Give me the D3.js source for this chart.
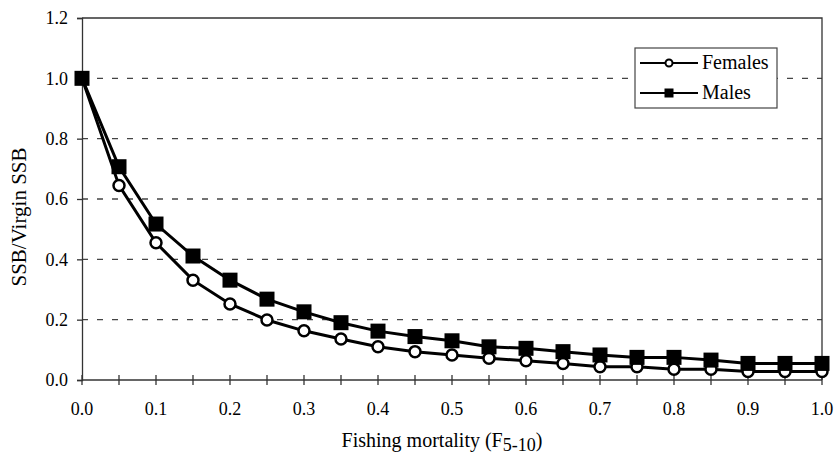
<!DOCTYPE html>
<html>
<head>
<meta charset="utf-8">
<script src="https://cdn.jsdelivr.net/npm/d3@7"></script>
<style>
    body { margin: 0; background: #fff; }
    svg text { font-family: 'Liberation Serif', 'DejaVu Serif', serif; }
</style>
</head>
<body>
<svg id="chart" width="836" height="456"></svg>
<script>
// fishing mortality values (F5-10)
var fValues = [0, 0.05, 0.1, 0.15, 0.2, 0.25, 0.3, 0.35, 0.4, 0.45, 0.5,
               0.55, 0.6, 0.65, 0.7, 0.75, 0.8, 0.85, 0.9, 0.95, 1.0];
var females = [1.0, 0.645, 0.455, 0.331, 0.252, 0.199, 0.163, 0.136, 0.110, 0.094, 0.083,
               0.072, 0.064, 0.055, 0.044, 0.044, 0.036, 0.036, 0.028, 0.028, 0.028];
var males = [1.0, 0.707, 0.517, 0.411, 0.331, 0.268, 0.226, 0.190, 0.162, 0.144, 0.130,
             0.110, 0.105, 0.094, 0.083, 0.075, 0.075, 0.066, 0.055, 0.055, 0.055];
var yTicks = [0, 0.2, 0.4, 0.6, 0.8, 1.0, 1.2];
var xLabelTicks = [0, 0.1, 0.2, 0.3, 0.4, 0.5, 0.6, 0.7, 0.8, 0.9, 1.0];
var seriesNames = ['Females', 'Males'];

var svg = d3.select('#chart');
var margin = {left: 82, right: 14, top: 18, bottom: 76};
var width = 836 - margin.left - margin.right;
var height = 456 - margin.top - margin.bottom;

var x = d3.scaleLinear().domain([0, 1]).range([margin.left, margin.left + width]);
var y = d3.scaleLinear().domain([0, 1.2]).range([margin.top + height, margin.top]);

// dashed gridlines
svg.append('g')
    .selectAll('line')
    .data(yTicks.filter(function(d) { return d > 0 && d < 1.2; }))
  .enter().append('line')
    .attr('x1', x(0)).attr('x2', x(1))
    .attr('y1', function(d) { return y(d); })
    .attr('y2', function(d) { return y(d); })
    .attr('stroke', '#444')
    .attr('stroke-width', 1.3)
    .attr('stroke-dasharray', '6,9');

// top and right frame
svg.append('path')
    .attr('d', 'M' + x(0) + ',' + y(1.2) + 'H' + x(1) + 'V' + y(0))
    .attr('fill', 'none')
    .attr('stroke', '#333')
    .attr('stroke-width', 1.3);

// y axis
var yAxis = d3.axisLeft(y)
    .tickValues(yTicks)
    .tickSize(5)
    .tickPadding(9)
    .tickFormat(d3.format('.1f'));
svg.append('g')
    .attr('transform', 'translate(' + x(0) + ',0)')
    .call(yAxis)
    .attr('font-family', null)
    .attr('font-size', 18)
    .call(function(g) {
        g.select('.domain').attr('stroke', '#333').attr('stroke-width', 1.3);
        g.selectAll('.tick line').attr('stroke', '#333').attr('stroke-width', 1.3);
        g.selectAll('.tick text').attr('fill', '#000');
    });

// x axis: crossing ticks every 0.05, labels every 0.1
var xAxisG = svg.append('g')
    .attr('transform', 'translate(0,' + y(0) + ')');
xAxisG.append('line')
    .attr('x1', x(0)).attr('x2', x(1))
    .attr('stroke', '#333').attr('stroke-width', 1.3);
xAxisG.selectAll('.xtick')
    .data(fValues)
  .enter().append('line')
    .attr('class', 'xtick')
    .attr('x1', function(d) { return x(d); })
    .attr('x2', function(d) { return x(d); })
    .attr('y1', -5).attr('y2', 5)
    .attr('stroke', '#333').attr('stroke-width', 1.3);
xAxisG.selectAll('.xlabel')
    .data(xLabelTicks)
  .enter().append('text')
    .attr('class', 'xlabel')
    .attr('x', function(d) { return x(d); })
    .attr('y', 35)
    .attr('text-anchor', 'middle')
    .attr('font-size', 18)
    .text(d3.format('.1f'));

// axis titles
svg.append('text')
    .attr('transform', 'translate(26,217)rotate(-90)')
    .attr('text-anchor', 'middle')
    .attr('font-size', 21)
    .text('SSB/Virgin SSB');

var xTitle = svg.append('text')
    .attr('x', 442)
    .attr('y', 447)
    .attr('text-anchor', 'middle')
    .attr('font-size', 20);
xTitle.append('tspan').text('Fishing mortality (F');
xTitle.append('tspan').attr('font-size', 18).attr('dy', 4).text('5-10');
xTitle.append('tspan').attr('dy', -4).text(')');

// series lines
var line = d3.line()
    .x(function(d, i) { return x(fValues[i]); })
    .y(function(d) { return y(d); });

svg.append('path')
    .datum(females)
    .attr('fill', 'none')
    .attr('stroke', '#000')
    .attr('stroke-width', 3)
    .attr('d', line);

svg.selectAll('.female-marker')
    .data(females)
  .enter().append('circle')
    .attr('class', 'female-marker')
    .attr('cx', function(d, i) { return x(fValues[i]); })
    .attr('cy', function(d) { return y(d); })
    .attr('r', 5.5)
    .attr('fill', '#fff')
    .attr('stroke', '#000')
    .attr('stroke-width', 2.5);

svg.append('path')
    .datum(males)
    .attr('fill', 'none')
    .attr('stroke', '#000')
    .attr('stroke-width', 3)
    .attr('d', line);

var sq = 15;
svg.selectAll('.male-marker')
    .data(males)
  .enter().append('rect')
    .attr('class', 'male-marker')
    .attr('x', function(d, i) { return x(fValues[i]) - sq / 2; })
    .attr('y', function(d) { return y(d) - sq / 2; })
    .attr('width', sq)
    .attr('height', sq)
    .attr('fill', '#000');

// legend
var legend = svg.append('g').attr('transform', 'translate(635,48)');
legend.append('rect')
    .attr('width', 142).attr('height', 60)
    .attr('fill', '#fff')
    .attr('stroke', '#444')
    .attr('stroke-width', 1.2);

var rows = legend.selectAll('.legend-row')
    .data(seriesNames)
  .enter().append('g')
    .attr('class', 'legend-row')
    .attr('transform', function(d, i) { return 'translate(0,' + (15 + i * 30) + ')'; });
rows.append('line')
    .attr('x1', 5).attr('x2', 63)
    .attr('stroke', '#000').attr('stroke-width', 2);
rows.filter(function(d) { return d === 'Females'; })
    .append('circle')
    .attr('cx', 34).attr('r', 3.5)
    .attr('fill', '#fff').attr('stroke', '#000').attr('stroke-width', 2);
rows.filter(function(d) { return d === 'Males'; })
    .append('rect')
    .attr('x', 29.5).attr('y', -4.5).attr('width', 9).attr('height', 9)
    .attr('fill', '#000');
rows.append('text')
    .attr('x', 67)
    .attr('y', 6)
    .attr('font-size', 20)
    .text(function(d) { return d; });
</script>
</body>
</html>
